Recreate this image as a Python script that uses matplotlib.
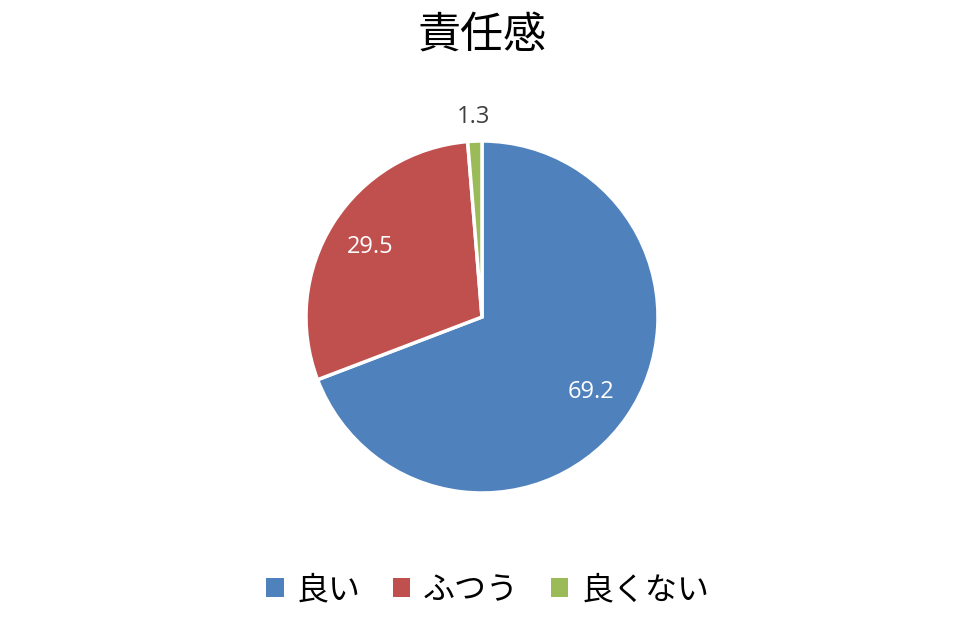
import numpy as np
import matplotlib
matplotlib.use("Agg")
import matplotlib.pyplot as plt
from matplotlib.patches import Patch

plt.rcParams['font.family'] = ['Noto Sans CJK JP', 'DejaVu Sans']

# data
categories = ['良い', 'ふつう', '良くない']
values = [69.2, 29.5, 1.3]
colors = ['#4F81BD', '#C0504D', '#9BBB59']
title = '責任感'

W, H = 960, 620
fig = plt.figure(figsize=(W / 100, H / 100), dpi=100)

# pie center at (482, 317) px, radius 176 px
cx, cy, r = 482, 317, 176
ax = fig.add_axes([(cx - r) / W, (H - cy - r) / H, 2 * r / W, 2 * r / H])
wedges, _ = ax.pie(values, colors=colors, startangle=90, counterclock=False,
                   radius=1.0,
                   wedgeprops=dict(edgecolor='white', linewidth=2.5))
ax.set_xlim(-1, 1)
ax.set_ylim(-1, 1)
ax.set_aspect('equal')
ax.axis('off')

# value labels
for w, v in zip(wedges, values):
    mid = np.deg2rad((w.theta1 + w.theta2) / 2)
    if v < 5:
        d, col = 1.14, '#404040'
    else:
        d, col = 0.75, 'white'
    ax.text(d * np.cos(mid), d * np.sin(mid), f'{v:.1f}', ha='center', va='center',
            fontsize=17, color=col, family=['Open Sans', 'DejaVu Sans'])

fig.text(0.502, 1 - 36 / H, title, ha='center', va='center', fontsize=31, color='black')

handles = [Patch(facecolor=c, edgecolor='none') for c in colors]
fig.legend(handles, categories, loc='center', bbox_to_anchor=(0.508, 1 - 590 / H),
           ncol=3, frameon=False, fontsize=23, handlelength=0.55, handleheight=0.55,
           handletextpad=0.4, columnspacing=1.0)

fig.savefig('out.png', dpi=100)
